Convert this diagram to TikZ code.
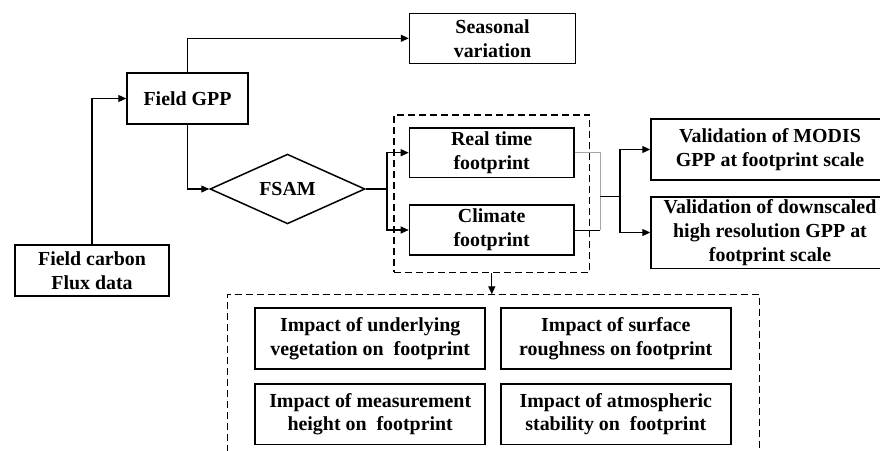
\documentclass[tikz,border=0pt]{standalone}
\usepackage{fontspec}
\setmainfont{Liberation Serif}
\usetikzlibrary{shapes.geometric,arrows.meta}
\begin{document}
\begin{tikzpicture}[x=1pt,y=-1pt,
  every node/.style={font=\fontsize{19.9}{23.8}\selectfont\bfseries, align=center, inner sep=0pt},
  box/.style={draw, line width=1.5pt, rectangle},
  arr/.style={line width=1.2pt, -{Triangle[length=8pt,width=7pt]}},
  ln/.style={line width=1.2pt},
  thin/.style={line width=0.9pt},
  dbox/.style={draw, line width=1.3pt, dash pattern=on 7pt off 4pt}]
\useasboundingbox (0,0) rectangle (880,450);
\fill[white] (0,0) rectangle (880,450);
% nodes
\node[box, minimum width=154pt, minimum height=51pt] (carbon) at (92,270.5) {Field carbon\\Flux data};
\node[box, minimum width=121pt, minimum height=51pt] (gpp) at (187.5,98.5) {Field GPP};
\node[box, minimum width=166pt, minimum height=50pt] (seasonal) at (492.5,38.3) {Seasonal\\variation};
\node[draw, diamond, line width=1.5pt, minimum width=155pt, minimum height=54pt] (fsam) at (287.5,189) {FSAM};
\node[dbox, minimum width=195.5pt, minimum height=157.5pt] (group) at (491.8,193.7) {};
\node[box, minimum width=164.5pt, minimum height=49.5pt] (realtime) at (491.7,152.7) {Real time\\footprint};
\node[box, minimum width=164.5pt, minimum height=50pt] (climate) at (491.7,230) {Climate\\footprint};
\node[box, minimum width=238pt, minimum height=61pt] (modis) at (770,149.5) {Validation of MODIS\\GPP at footprint scale};
\node[box, minimum width=238pt, minimum height=71.5pt] (down) at (770,232.5) {Validation of downscaled\\high resolution GPP at\\footprint scale};
\node[box, minimum width=230pt, minimum height=61pt] (imp1) at (370.2,338.5) {Impact of underlying\\vegetation on\enspace footprint};
\node[box, minimum width=230pt, minimum height=61pt] (imp2) at (615.8,338.5) {Impact of surface\\roughness on footprint};
\node[box, minimum width=230pt, minimum height=60.5pt] (imp3) at (370.2,414.2) {Impact of measurement\\height on\enspace footprint};
\node[box, minimum width=230pt, minimum height=60.5pt] (imp4) at (615.8,414.2) {Impact of atmospheric\\stability on\enspace footprint};
% coordinates
\coordinate (b1) at (387,189);
\coordinate (m1) at (600,230);
\coordinate (m2) at (600,196);
\coordinate (b2) at (620,196);
\coordinate (btop) at (group.south |- 0,294.3);
\coordinate (bl) at (227.3,452);
\coordinate (blt) at (227.3,294.3);
\coordinate (brt) at (759.3,294.3);
\coordinate (br) at (759.3,452);
% big dashed box (open at bottom)
\draw[line width=1.3pt, dash pattern=on 7pt off 4pt] (bl) -- (blt) -- (brt) -- (br);
% connectors
\draw[arr] (carbon.north) |- (gpp.west);
\draw[arr] (gpp.north) |- (seasonal.west);
\draw[arr] (gpp.south) |- (fsam.west);
\draw[ln] (fsam.east) -- (b1);
\draw[arr] (b1) |- (realtime.west);
\draw[arr] (b1) |- (climate.west);
\draw[thin, gray!70] (realtime.east) -| (m1);
\draw[thin] (climate.east) -- (m1);
\draw[thin] (m2) -- (b2);
\draw[arr] (b2) |- (modis.west);
\draw[arr] (b2) |- (down.west);
\draw[arr] (group.south) -- (btop);
\end{tikzpicture}
\end{document}
